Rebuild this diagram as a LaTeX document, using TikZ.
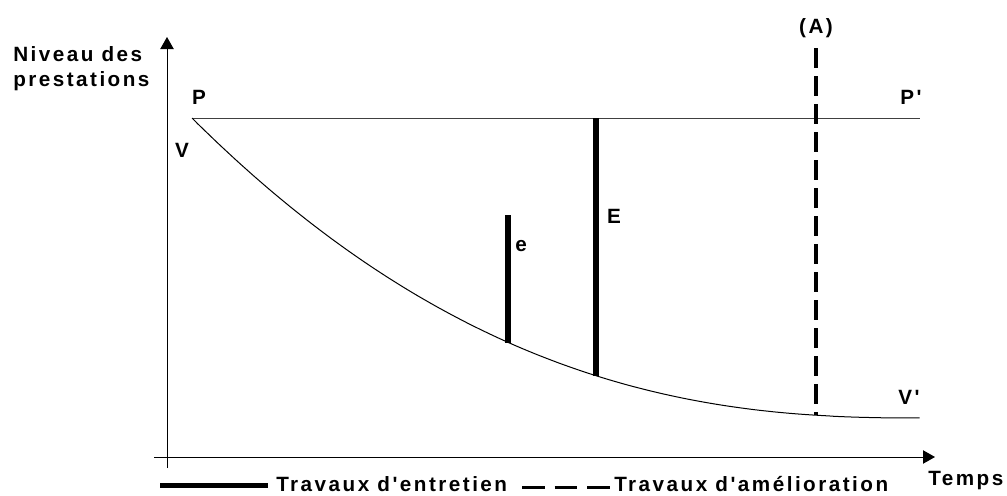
\documentclass[tikz,border=0pt]{standalone}
\usepackage{fontspec}
\newfontfamily\lblfont{Liberation Sans}[LetterSpace=12]
\usetikzlibrary{arrows.meta}

\tikzset{
  lbl/.style={font=\lblfont\bfseries\fontsize{15.5}{19}\selectfont, inner sep=0pt},
  axe/.style={line width=0.75pt, -{Triangle[length=9pt,width=10pt]}},
  trait/.style={line width=0.75pt},
  entretien/.style={line width=4.5pt},
  amelioration/.style={line width=3pt, dash pattern=on 15pt off 6pt},
  legdash/.style={line width=2.25pt, dash pattern=on 17pt off 7.5pt},
}

\begin{document}
\begin{tikzpicture}[x=0.75pt,y=-0.75pt]
	\useasboundingbox (0,0) rectangle (1007,496);
	% axes
	\coordinate (ybas) at (167,468);
	\coordinate (yhaut) at (167,37);
	\coordinate (xgauche) at (154,457);
	\coordinate (xdroite) at (935,457);
	\draw [axe] (ybas) -- (yhaut);
	\draw [axe] (xgauche) -- (xdroite);
	\node [lbl, align=left, anchor=north west] (niveau) at (13,46) {Niveau des\\prestations};
	\node [lbl, anchor=base west] (temps) at (928,485) {Temps};
	% niveau initial et courbe de vieillissement
	\coordinate (P) at (192,118);
	\coordinate (Pp) at (920,118);
	\draw [trait, black!75] (P) -- (Pp);
	\draw [trait] plot [domain=192:919.5, samples=120] (\x, {418-300*(1-(\x-192)/728)^2.42});
	\node [lbl] (lP) at (199,97) {P};
	\node [lbl] (lV) at (182,150) {V};
	\node [lbl] (lPp) at (911,97) {P'};
	\node [lbl] (lVp) at (909,397) {V'};
	% travaux d'entretien
	\coordinate (ehaut) at (508,215);
	\coordinate (ebas) at (508,343);
	\coordinate (Ehaut) at (596,118);
	\coordinate (Ebas) at (596,376);
	\draw [entretien] (ehaut) -- (ebas);
	\draw [entretien] (Ehaut) -- (Ebas);
	\node [lbl] (le) at (521,246) {e};
	\node [lbl] (lE) at (614,216) {E};
	% travaux d'amelioration
	\coordinate (Ahaut) at (816,48);
	\coordinate (Abas) at (816,415);
	\draw [amelioration] (Ahaut) -- (Abas);
	\node [lbl, anchor=base] (lA) at (816,33.5) {(A)};
	% legende
	\node [lbl, anchor=base west] (tent) at (276,491) {Travaux d'entretien};
	\node [lbl, anchor=base west] (tam) at (614,491) {Travaux d'amélioration};
	\coordinate (leg1a) at (160,485);
	\coordinate (leg1b) at (268,485);
	\coordinate (leg2a) at (522,487);
	\coordinate (leg2b) at (611,487);
	\draw [line width=3.75pt] (leg1a) -- (leg1b);
	\draw [legdash] (leg2a) -- (leg2b);
\end{tikzpicture}
\end{document}
